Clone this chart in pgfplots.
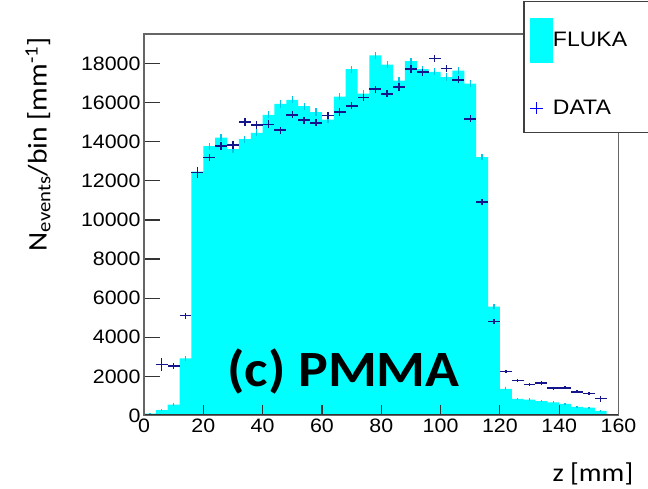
\documentclass[border=0pt]{standalone}
\usepackage{fontspec}
\setmainfont{Liberation Sans}[FakeStretch=1.1]
\newfontfamily\pmmafont{Carlito}[FakeStretch=1.1]
\usepackage{pgfplots}
\pgfplotsset{compat=1.18}
\usepackage{pgfplotstable}

\definecolor{hist}{RGB}{0,255,255}
\definecolor{histerr}{RGB}{0,200,235}
\definecolor{datacol}{RGB}{20,20,140}
\definecolor{legblue}{RGB}{0,0,255}

% FLUKA histogram: left bin edge, content
\pgfplotstableread{
x y
0 90
4 270
8 550
12 2920
16 12470
20 13770
24 14210
28 13620
32 14130
36 14450
40 15370
44 15930
48 16140
52 15820
56 15520
60 15130
64 16310
68 17710
72 16460
76 18420
80 17940
84 17130
88 18120
92 17710
96 17570
100 17310
104 17640
108 16970
112 13210
116 5570
120 1360
124 845
128 810
132 740
136 675
140 600
144 435
148 400
152 230
156 0
160 0
}\histtab

% FLUKA statistical errors at bin centres
\pgfplotstableread{
x y e
2 90 40
6 270 60
10 550 70
14 2920 130
18 12470 180
22 13770 180
26 14210 180
30 13620 180
34 14130 180
38 14450 180
42 15370 180
46 15930 180
50 16140 180
54 15820 180
58 15520 180
62 15130 180
66 16310 180
70 17710 180
74 16460 180
78 18420 180
82 17940 180
86 17130 180
90 18120 180
94 17710 180
98 17570 180
102 17310 180
106 17640 180
110 16970 180
114 13210 160
118 5570 140
122 1360 80
126 845 60
130 810 60
134 740 60
138 675 60
142 600 60
146 435 50
150 400 50
154 230 40
}\histerrtab

% DATA: z, counts, half bin width, error
\pgfplotstableread{
x y ex ey
6 2600 2 320
10 2540 2 150
14 5110 2 150
18 12440 2 270
22 13190 2 200
26 13790 2 200
30 13840 2 200
34 15000 2 200
38 14860 2 200
42 14890 2 200
46 14590 2 180
50 15370 2 180
54 15110 2 180
58 14960 2 180
62 15350 2 180
66 15520 2 180
70 15830 2 180
74 16260 2 180
78 16690 2 180
82 16450 2 180
86 16800 2 180
90 17720 2 180
94 17560 2 180
98 18270 2 180
102 17740 2 180
106 17160 2 180
110 15170 2 180
114 10920 2 150
118 4800 2 120
122 2260 2 80
126 1780 2 80
130 1600 2 80
134 1660 2 80
138 1400 2 80
142 1410 2 80
146 1210 2 80
150 1130 2 80
154 860 2 150
}\datatab

\begin{document}
\begin{tikzpicture}[x=1bp,y=1bp]
\useasboundingbox (0,0) rectangle (648,489);
\begin{axis}[
  at={(144bp,73.5bp)}, anchor=south west,
  scale only axis, width=474.5bp, height=381.5bp,
  xmin=0, xmax=160, ymin=0, ymax=19510,
  xtick={0,20,...,160}, ytick={0,2000,...,18000},
  minor tick num=0,
  scaled y ticks=false,
  /pgf/number format/1000 sep={},
  /pgf/number format/assume math mode=true,
  tick label style={font=\fontsize{19.5}{23}\selectfont},
  tick align=inside, tickpos=left,
  major tick length=16bp,
  xtick style={/pgfplots/major tick length=10bp},
  tick style={draw=black!80, line width=1.2bp},
  axis line style={draw=black!60, line width=1.2bp},
  axis on top=true,
  xlabel={z [mm]},
  xlabel style={font=\fontsize{26}{30}\pmmafont, at={(axis description cs:1.0384,-0.1717)}, anchor=base east},
  ylabel={N\textsubscript{events}/bin [mm\textsuperscript{-1}]},
  ylabel style={font=\fontsize{27}{32}\pmmafont, at={(axis description cs:-0.2051,1.0)}, anchor=base east},
  legend style={at={(axis description cs:0.7994,1.0872)}, anchor=north west,
    draw=black!75, line width=1.2bp, fill=white,
    font=\fontsize{21}{25}\selectfont,
    inner xsep=5bp, inner ysep=16.5bp, row sep=37bp,
    nodes={inner sep=0bp},
    /tikz/every even column/.append style={column sep=5bp}},
  legend cell align=left,
]
\addplot[const plot, fill=hist, draw=none,
  legend image code/.code={\fill[hist] (0bp,-22.7bp) rectangle (23.4bp,22.7bp);}]
  table[x=x,y=y]{\histtab} \closedcycle;
\addlegendentry{\makebox[120bp][l]{FLUKA}}
\addplot[draw=none, mark=none, forget plot,
  error bars/.cd, y dir=both, y explicit, error mark=none,
  error bar style={draw=histerr, line width=1.3bp}]
  table[x=x,y=y,y error=e]{\histerrtab};
\addplot[draw=none, mark=none,
  error bars/.cd, x dir=both, x explicit, y dir=both, y explicit, error mark=none,
  error bar style={draw=datacol, line width=1.4bp},
  /pgfplots/legend image code/.code={\draw[legblue, line width=1.3bp] (0bp,0bp)--(13.7bp,0bp) (6.85bp,-6bp)--(6.85bp,6bp);}]
  table[x=x,y=y,x error=ex,y error=ey]{\datatab};
\addlegendentry{DATA}
\draw[black!80, line width=2bp] (rel axis cs:0,1) -- (rel axis cs:0,0) -- (rel axis cs:1,0);
\node[font=\fontsize{51}{60}\selectfont\pmmafont\bfseries, anchor=base] at (axis description cs:0.4204,0.0747) {(c) PMMA};
\end{axis}
\end{tikzpicture}
\end{document}
